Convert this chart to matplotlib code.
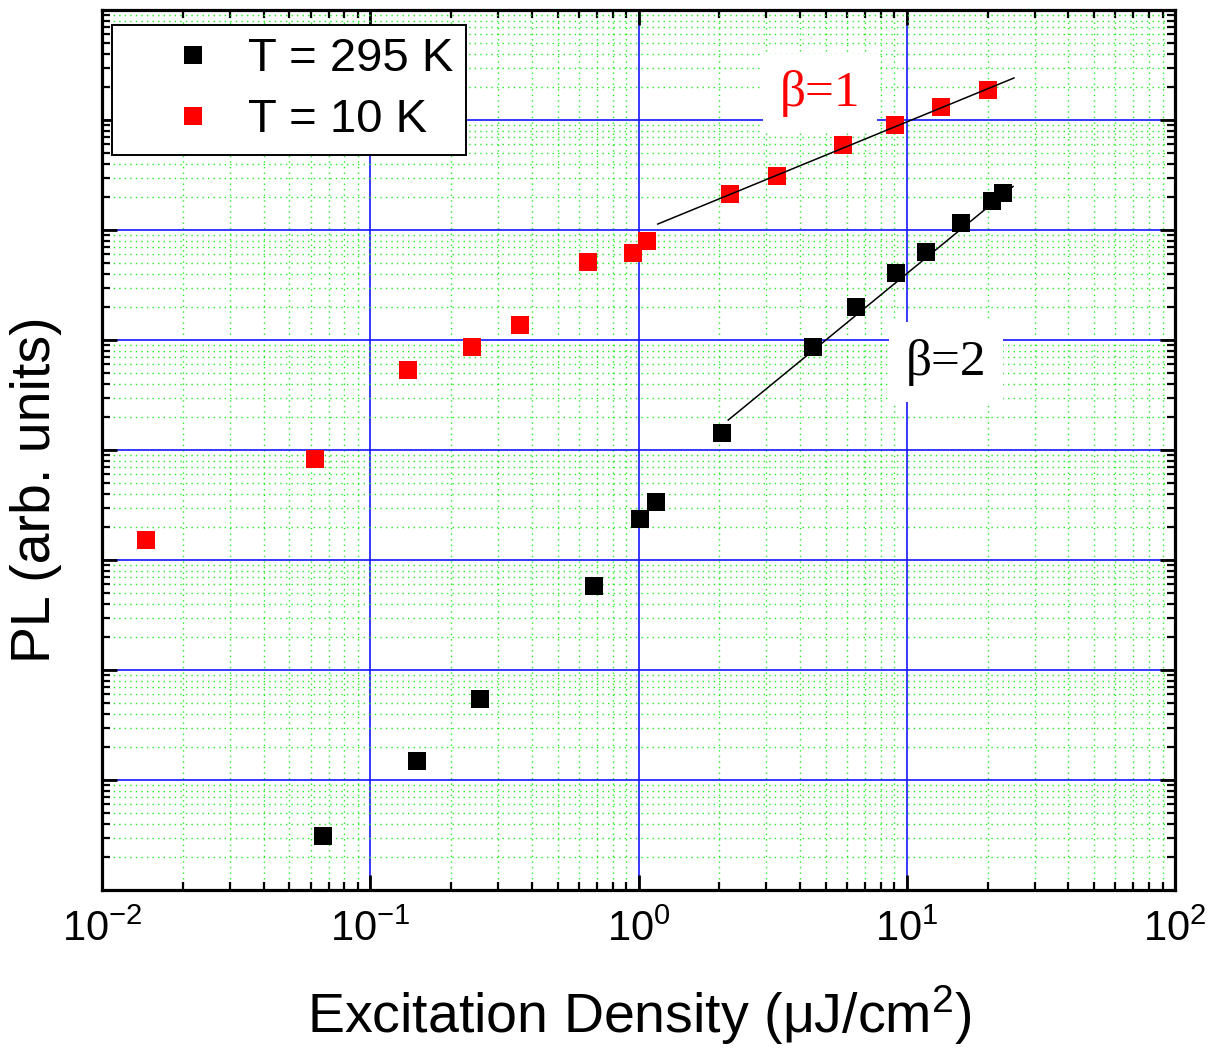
import numpy as np
import matplotlib
matplotlib.use("Agg")
import matplotlib.pyplot as plt
from matplotlib.ticker import LogLocator, NullFormatter, LogFormatterMathtext

plt.rcParams["font.family"] = ["Liberation Sans", "DejaVu Sans"]
plt.rcParams["mathtext.fontset"] = "custom"
plt.rcParams["mathtext.rm"] = "Liberation Sans"
plt.rcParams["mathtext.it"] = "Liberation Sans:italic"
plt.rcParams["mathtext.bf"] = "Liberation Sans:bold"

# PL intensity vs. excitation density, room temperature
x_295K = [0.0667, 0.149, 0.256, 0.682, 1.01, 1.16, 2.05, 4.47, 6.47, 9.12, 11.8, 15.9, 20.8, 22.9]
pl_295K = [3.1, 14.9, 54.5, 580, 2360, 3370, 1.43e4, 8.63e4, 2.0e5, 4.06e5, 6.31e5, 1.16e6, 1.84e6, 2.17e6]

# PL intensity vs. excitation density, 10 K
x_10K = [0.0146, 0.0622, 0.138, 0.239, 0.361, 0.649, 0.953, 1.08, 2.19, 3.28, 5.78, 9.04, 13.4, 20.1]
pl_10K = [1520, 8280, 5.34e4, 8.63e4, 1.37e5, 5.12e5, 6.18e5, 7.94e5, 2.12e6, 3.1e6, 5.93e6, 9.0e6, 1.31e7, 1.87e7]

# Power-law guides PL = A * x**beta
beta1_range = [1.18, 25.1]
beta1_prefactor = 9.6e5
beta2_range = [2.16, 24.9]
beta2_prefactor = 4010.0

fig = plt.figure(figsize=(12.17, 10.57), dpi=100)
ax = fig.add_axes([102 / 1217, 1 - 890 / 1057, 1073 / 1217, 880 / 1057])
ax.set_xscale("log")
ax.set_yscale("log")
ax.set_xlim(1e-2, 1e2)
ax.set_ylim(1e0, 1e8)

# grids: solid blue decades, dotted green sub-decades
ax.grid(True, which="major", color="#1515ff", lw=1.2, ls="-", zorder=0)
ax.grid(True, which="minor", color="#22ee22", lw=1.0, ls=(0, (1, 3)), zorder=0)
ax.set_axisbelow(True)

ax.xaxis.set_major_locator(LogLocator(base=10, numticks=10))
ax.xaxis.set_minor_locator(LogLocator(base=10, subs=np.arange(2, 10), numticks=20))
ax.yaxis.set_major_locator(LogLocator(base=10, numticks=20))
ax.yaxis.set_minor_locator(LogLocator(base=10, subs=np.arange(2, 10), numticks=40))
ax.xaxis.set_major_formatter(LogFormatterMathtext())
ax.xaxis.set_minor_formatter(NullFormatter())
ax.yaxis.set_major_formatter(NullFormatter())
ax.yaxis.set_minor_formatter(NullFormatter())

ax.tick_params(which="both", direction="in", top=True, right=True)
ax.tick_params(which="major", length=11, width=2.0, labelsize=30, pad=14)
ax.tick_params(which="minor", length=5.5, width=1.6)
for s in ax.spines.values():
    s.set_linewidth(2.3)

ax.plot(x_295K, pl_295K, ls="none", marker="s", ms=12.6, mew=0, color="black",
        label="T = 295 K", zorder=3)
ax.plot(x_10K, pl_10K, ls="none", marker="s", ms=12.6, mew=0, color="#ff0000",
        label="T = 10 K", zorder=3)

xb1 = np.array(beta1_range)
ax.plot(xb1, beta1_prefactor * xb1 ** 1, color="black", lw=1.1, zorder=4)
xb2 = np.array(beta2_range)
ax.plot(xb2, beta2_prefactor * xb2 ** 2, color="black", lw=1.1, zorder=4)

ax.text(4.75, 1.74e7, "β=1", color="#ff0000", fontsize=37, family="Liberation Serif",
        ha="center", va="center", zorder=2,
        bbox=dict(boxstyle="square,pad=0.32", facecolor="white", edgecolor="none"))
ax.text(14.0, 6.3e4, "β=2", color="black", fontsize=37, family="Liberation Serif",
        ha="center", va="center", zorder=2,
        bbox=dict(boxstyle="square,pad=0.32", facecolor="white", edgecolor="none"))

leg = ax.legend(loc="upper left", bbox_to_anchor=(10 / 1073, 1 - 15 / 880),
                borderaxespad=0, fontsize=34, frameon=True, fancybox=False,
                numpoints=1, handlelength=2.9, handletextpad=-0.28, borderpad=0.26,
                labelspacing=0.36, markerscale=1.0)
leg.get_frame().set_edgecolor("black")
leg.get_frame().set_linewidth(1.4)
leg.get_frame().set_facecolor("white")
leg.get_frame().set_alpha(1.0)
leg.set_zorder(5)

ax.set_xlabel("Excitation Density (μJ/cm$^{2}$)", fontsize=40)
ax.set_ylabel("PL (arb. units)", fontsize=40)
ax.xaxis.set_label_coords(0.501, -0.106)
ax.yaxis.set_label_coords(-0.037, 0.455)

fig.savefig("out.png", dpi=100)
